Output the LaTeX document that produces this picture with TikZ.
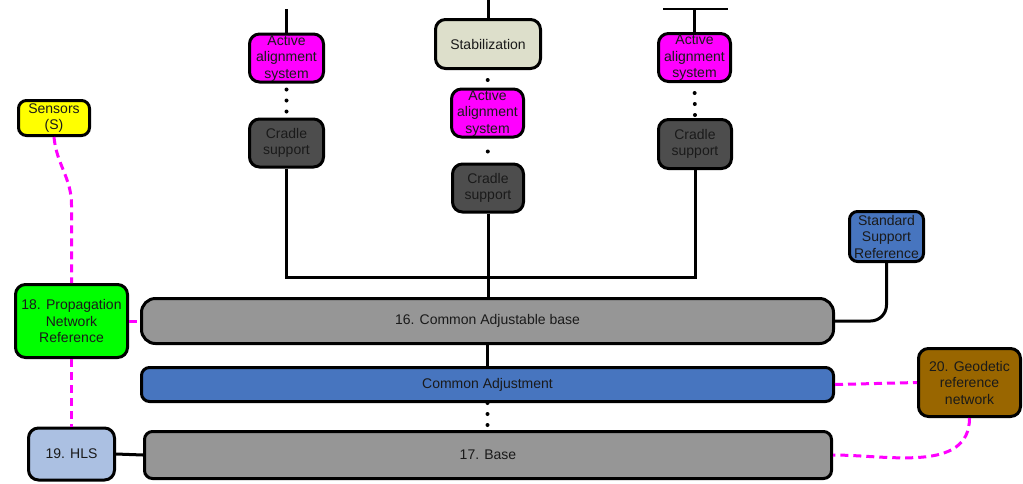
\documentclass[tikz,border=0pt]{standalone}
\usepackage{fontspec}
\setmainfont{Liberation Sans}
\definecolor{mag}{RGB}{255,0,255}
\definecolor{stabc}{RGB}{221,223,203}
\definecolor{cradc}{RGB}{77,77,77}
\definecolor{grayc}{RGB}{150,150,150}
\definecolor{bluec}{RGB}{71,117,191}
\definecolor{hlsc}{RGB}{171,192,226}
\definecolor{brownc}{RGB}{153,102,0}
\definecolor{greenc}{RGB}{0,255,0}
\definecolor{yellowc}{RGB}{255,255,0}
\definecolor{txt}{RGB}{26,26,26}
\begin{document}
\begin{tikzpicture}[x=1pt,y=-1pt,
  box/.style={draw=black, line width=3pt, rounded corners=10pt, inner sep=0pt,
    align=center, text=txt, font=\fontsize{14pt}{16.5pt}\selectfont},
  link/.style={draw=black, line width=3pt},
  mlink/.style={draw=mag, line width=3pt, dash pattern=on 8pt off 5pt},
  dots/.style={draw=black, line width=4pt, line cap=round}
]
\useasboundingbox (0,0) rectangle (1023,483);
% column nodes
\node[box, fill=mag, minimum width=74pt, minimum height=48pt] (aasL) at (286.5,58) {Active\\alignment\\system};
\node[box, fill=cradc, minimum width=74pt, minimum height=48pt] (craL) at (286.5,143) {Cradle\\support};
\node[box, fill=stabc, minimum width=105pt, minimum height=49pt] (stab) at (488,44) {Stabilization};
\node[box, fill=mag, minimum width=72pt, minimum height=48pt] (aasM) at (487.5,113) {Active\\alignment\\system};
\node[box, fill=cradc, minimum width=71pt, minimum height=48pt] (craM) at (488,188) {Cradle\\support};
\node[box, fill=mag, minimum width=72pt, minimum height=48pt] (aasR) at (694.5,57.5) {Active\\alignment\\system};
\node[box, fill=cradc, minimum width=73pt, minimum height=49pt] (craR) at (695,144) {Cradle\\support};
% left nodes
\node[box, fill=yellowc, rounded corners=8pt, minimum width=71pt, minimum height=35pt] (sens) at (54,118) {Sensors\\(S)};
\node[box, fill=greenc, minimum width=112pt, minimum height=73pt] (prop) at (71.5,321) {18. Propagation\\Network\\Reference};
\node[box, fill=hlsc, minimum width=86pt, minimum height=52pt] (hls) at (71.5,454) {19. HLS};
% wide bars
\node[box, fill=grayc, rounded corners=14pt, minimum width=692pt, minimum height=45pt] (cab) at (487.5,321) {16. Common Adjustable base};
\node[box, fill=bluec, rounded corners=8pt, minimum width=692pt, minimum height=34pt] (cadj) at (487.5,384.5) {Common Adjustment};
\node[box, fill=grayc, rounded corners=8pt, minimum width=687pt, minimum height=47pt] (base) at (488,455) {17. Base};
% right nodes
\node[box, fill=bluec, rounded corners=8pt, minimum width=74pt, minimum height=50pt] (ssr) at (886.5,236.5) {Standard\\Support\\Reference};
\node[box, fill=brownc, minimum width=102pt, minimum height=68pt] (geo) at (969.5,382.5) {20. Geodetic\\reference\\network};
% top stubs
\coordinate (topL) at (286.5,9);
\coordinate (topM) at (488,0);
\coordinate (topR) at (694.5,9);
\coordinate (topRa) at (663,9);
\coordinate (topRb) at (728,9);
\draw[link] (topL) -- (aasL.north);
\draw[link] (topM) -- (stab.north);
\draw[link] (topR) -- (aasR.north);
\draw[draw=black, line width=1.5pt] (topRa) -- (topRb);
% dotted links
\draw[dots, dash pattern=on 0pt off 11pt, dash phase=5pt] (aasL.south) -- (craL.north);
\draw[dots, dash pattern=on 0pt off 30pt, dash phase=20pt] (stab.south) -- (aasM.north);
\draw[dots, dash pattern=on 0pt off 30pt, dash phase=17pt] (aasM.south) -- (craM.north);
\draw[dots, dash pattern=on 0pt off 11pt, dash phase=1pt] (aasR.south) -- (craR.north);
\draw[dots, dash pattern=on 0pt off 11pt, dash phase=0pt] (cadj.south) -- (cadj.south |- base.north);
% tree
\coordinate (jn) at (488,277);
\draw[link] (craL.south) |- (jn) -| (craR.south);
\draw[link] (craM.south) -- (craM.south |- cab.north);
\draw[link] (cab.south) -- (cab.south |- cadj.north);
\draw[link] (hls.east) -- (base.west);
\draw[link, rounded corners=16pt] (ssr.south) |- (cab.east);
% magenta dashed
\coordinate (sbend) at (71.5,205);
\draw[mlink] (sens.south) to[out=-85,in=90] (sbend) -- (prop.north);
\draw[mlink] (prop.south) -- (hls.north);
\draw[mlink] (prop.east) -- (cab.west);
\draw[mlink] (cadj.east) -- (geo.west);
\draw[mlink] (geo.south) to[out=-90,in=0] (base.east);
\end{tikzpicture}
\end{document}
